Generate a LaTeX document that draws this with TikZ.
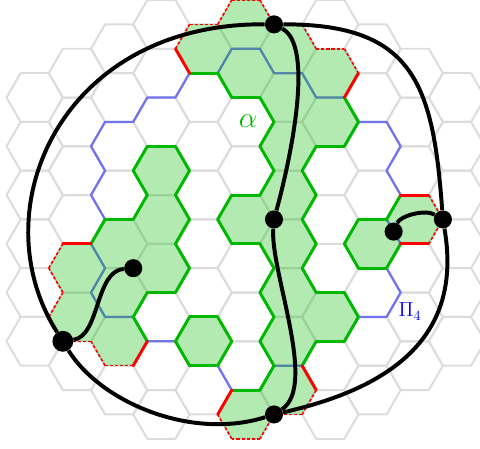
\documentclass[tikz,border=0pt]{standalone}
\usepackage{xcolor}
\usepackage{tikz}
\usetikzlibrary{calc}
\usepackage{amsmath}
\definecolor{ClusterGreen}{HTML}{00B800}
\definecolor{CircuitBlue}{HTML}{7373F0}
\definecolor{CutRed}{HTML}{FF0000}
\definecolor{GridGray}{HTML}{DCDCDC}

% corner at angle #3 of the hexagon in column #1, half-row #2 (side 1)
\newcommand{\hexpt}[3]{({1.5*(#1)+cos(#3)},{-0.8660254*(#2)+sin(#3)})}

\tikzset{
  gridline/.style={GridGray,line width=1.4pt,line join=round},
  clusterfill/.style={fill=ClusterGreen,fill opacity=0.3},
  clusteredge/.style={ClusterGreen,line width=2.1pt,line cap=round},
  circuitedge/.style={CircuitBlue,line width=1.6pt,line join=round},
  cutedge/.style={CutRed,line width=2.1pt,line cap=round},
  cutdashed/.style={CutRed,line width=1.1pt,dash pattern=on 2.2pt off 1.4pt},
  curveline/.style={black,line width=2.8pt},
  vertexdot/.style={circle,fill=black,inner sep=0pt,minimum size=#1},
  vertexdot/.default=0.45cm,
}

\begin{document}
\begin{tikzpicture}[x=0.7cm,y=0.7cm]
		\useasboundingbox (-1.2327,-15.049) rectangle (15.818,0.866);
		\clip (-1.2327,-15.049) rectangle (15.818,0.866);
		% lattice
		\foreach \k in {0,...,10}{
			\pgfmathtruncatemacro{\rlo}{max(abs(\k-5)-2,mod(\k+1,2))}
			\pgfmathtruncatemacro{\rnx}{\rlo+2}
			\pgfmathtruncatemacro{\rhi}{min(18-abs(\k-5),16-mod(\k+1,2))}
			\foreach \r in {\rlo,\rnx,...,\rhi}
				\draw[gridline] \hexpt{\k}{\r}{0} -- \hexpt{\k}{\r}{60} -- \hexpt{\k}{\r}{120} -- \hexpt{\k}{\r}{180} -- \hexpt{\k}{\r}{240} -- \hexpt{\k}{\r}{300} -- cycle;
		}
		% circuit Pi_4
		\draw[circuitedge] \hexpt{4}{1}{240} -- \hexpt{4}{3}{180} -- \hexpt{3}{2}{240} -- \hexpt{3}{4}{180}
			-- \hexpt{2}{3}{240} -- \hexpt{2}{5}{180} -- \hexpt{2}{5}{240} -- \hexpt{2}{7}{180}
			-- \hexpt{2}{7}{240} -- \hexpt{2}{9}{180} -- \hexpt{2}{9}{240} -- \hexpt{2}{11}{180}
			-- \hexpt{2}{11}{240} -- \hexpt{2}{11}{300} -- \hexpt{2}{13}{0} -- \hexpt{4}{13}{180}
			-- \hexpt{4}{13}{240} -- \hexpt{4}{13}{300} -- \hexpt{4}{15}{0} -- \hexpt{5}{16}{60}
			-- \hexpt{6}{15}{120} -- \hexpt{6}{15}{60} -- \hexpt{6}{13}{0} -- \hexpt{7}{12}{300}
			-- \hexpt{7}{12}{0} -- \hexpt{8}{13}{60} -- \hexpt{8}{11}{0} -- \hexpt{8}{11}{60}
			-- \hexpt{8}{9}{0} -- \hexpt{8}{9}{60} -- \hexpt{8}{7}{0} -- \hexpt{8}{7}{60}
			-- \hexpt{8}{5}{0} -- \hexpt{8}{5}{60} -- \hexpt{8}{3}{240} -- \hexpt{8}{3}{180}
			-- \hexpt{7}{2}{240} -- \hexpt{7}{2}{180} -- \hexpt{6}{1}{240} -- \hexpt{6}{1}{180}
			-- \hexpt{5}{2}{120} -- \hexpt{5}{2}{180} -- cycle;
		% cluster alpha
		\fill[clusterfill] \foreach \k/\r in {1/10,1/12,2/9,2/11,2/13,3/6,3/8,3/10,4/1,4/13,5/0,5/2,5/8,5/16,
				6/1,6/3,6/5,6/7,6/9,6/11,6/13,6/15,7/2,7/4,7/12,8/9,9/8}{
			\hexpt{\k}{\r}{0} -- \hexpt{\k}{\r}{60} -- \hexpt{\k}{\r}{120} -- \hexpt{\k}{\r}{180} -- \hexpt{\k}{\r}{240} -- \hexpt{\k}{\r}{300} -- cycle
		};
		\foreach \k/\r/\a in {2/9/120,2/9/180,2/11/0,2/13/60,
				3/6/120,3/6/60,3/6/0,3/6/-120,3/6/180,3/8/60,3/8/0,3/8/180,3/10/60,3/10/0,3/10/-60,
				4/1/-60,4/13/120,4/13/60,4/13/0,4/13/-60,4/13/-120,4/13/180,
				5/2/-60,5/2/-120,5/8/120,5/8/-60,5/8/-120,5/8/180,5/16/120,
				6/3/-120,6/5/0,6/5/-120,6/5/180,6/7/60,6/7/0,6/7/180,6/9/60,6/9/0,6/9/-120,
				6/11/60,6/11/-120,6/11/180,6/13/0,6/13/-120,6/13/180,6/15/180,
				7/4/60,7/4/0,7/4/-60,7/12/120,7/12/60,7/12/0,7/12/-60,
				8/9/120,8/9/0,8/9/-60,8/9/-120,8/9/180,9/8/180}
			\draw[clusteredge] \hexpt{\k}{\r}{\a} -- \hexpt{\k}{\r}{\a-60};
		% outer boundary
		\foreach \k/\r/\a in {1/10/120,2/13/0,4/1/-120,5/16/180,6/15/60,7/2/0,9/8/120,9/8/-60}
			\draw[cutedge] \hexpt{\k}{\r}{\a} -- \hexpt{\k}{\r}{\a-60};
		\foreach \k/\r/\a in {1/10/-120,1/10/180,1/12/-60,1/12/-120,1/12/180,2/13/-60,2/13/-120,
				4/1/120,4/1/180,5/0/120,5/0/60,5/0/180,5/16/0,5/16/-60,5/16/-120,
				6/1/120,6/1/60,6/15/0,6/15/-60,7/2/120,7/2/60,9/8/60,9/8/0}
			\draw[cutdashed] \hexpt{\k}{\r}{\a} -- \hexpt{\k}{\r}{\a-60};
		% curves and points
		\node[vertexdot] (top) at \hexpt{6}{1}{120} {};
		\node[vertexdot] (right) at \hexpt{9}{8}{0} {};
		\node[vertexdot] (bottom) at \hexpt{5}{16}{0} {};
		\node[vertexdot=0.52cm] (left) at \hexpt{1}{12}{240} {};
		\node[vertexdot] (mid) at \hexpt{6}{9}{120} {};
		\node[vertexdot] (leftend) at \hexpt{3}{10}{180} {};
		\node[vertexdot] (rightend) at (12.75,-7.3612) {};
		\draw[curveline] (left) .. controls (-1.943,-6.625) and (0.899,0.053) .. (top);
		\draw[curveline] (top) .. controls (13.51,0.018) and (14.15,-2.185) .. (right);
		\draw[curveline] (right) .. controls (15.18,-10.89) and (12.98,-12.84) .. (bottom);
		\draw[curveline] (bottom) .. controls (5.516,-14.79) and (2.32,-13.39) .. (left);
		\draw[curveline] (top) .. controls (9.958,-0.764) and (9.069,-4.849) .. (mid);
		\draw[curveline] (mid) .. controls (8.359,-8.757) and (10.06,-12.84) .. (bottom);
		\draw[curveline] (left) .. controls (2.32,-11.07) and (2.142,-8.757) .. (leftend);
		\draw[curveline] (rightend) .. controls (12.98,-6.803) and (13.86,-6.554) .. (right);
		\node[text=ClusterGreen,font=\huge] (alphalabel) at (7.577,-3.43) {$\alpha$};
		\node[text=blue,font=\Large] (pilabel) at (13.33,-10.2) {$\Pi_4$};
	\end{tikzpicture}
\end{document}
